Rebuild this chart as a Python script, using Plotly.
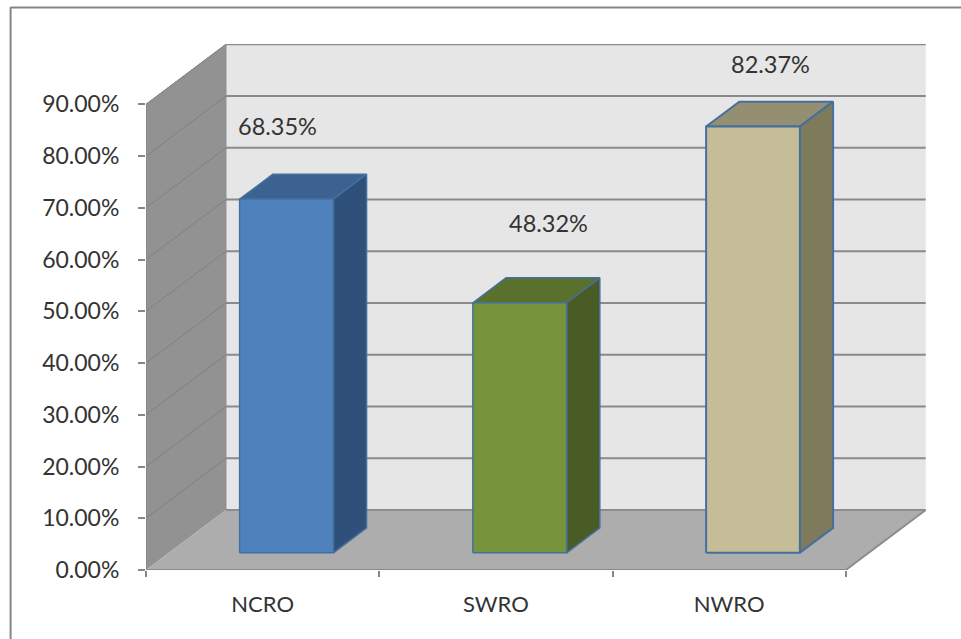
import plotly.graph_objects as go

# ---- data ----
categories = ["NCRO", "SWRO", "NWRO"]
values = [68.35, 48.32, 82.37]
y_ticks = [0, 10, 20, 30, 40, 50, 60, 70, 80, 90]
y_tick_labels = ["0.00%", "10.00%", "20.00%", "30.00%", "40.00%",
                 "50.00%", "60.00%", "70.00%", "80.00%", "90.00%"]

# ---- styles ----
front_colors = ["#4f81bd", "#77933c", "#c4bd97"]
top_colors = ["#3c6292", "#5a702d", "#948f71"]
side_colors = ["#2f5078", "#4a5c25", "#7e7a5c"]
outline_widths = [1.5, 1.5, 2]
outline = "#44709f"
FONT = "Lato, Carlito, Calibri, sans-serif"
TEXT = "#333333"

W, H = 961, 639
L, T, R, B = 145.5, 44, 927, 570    # plot rectangle in page pixels
PX_PER_CAT = 700.2 / 3
PX_PER_UNIT = (570 - 104.3) / 90
DEPTH_X = 80 / PX_PER_CAT           # full floor depth, in category units
DEPTH_Y = 60 / PX_PER_UNIT          # full floor depth, in value units
BAR_W = 0.402
BAR_NUDGE = 0.004
D0, D1 = 0.287, 0.702               # bar depth span


def proj(x, v, d):
    """Oblique projection of (category pos, value, depth) onto the 2D axes."""
    return x + d * DEPTH_X, v + d * DEPTH_Y


def poly(points, fill, line_color=None, line_width=0):
    pts = [proj(*p) for p in points]
    pts.append(pts[0])
    return go.Scatter(
        x=[p[0] for p in pts], y=[p[1] for p in pts], mode="lines",
        fill="toself", fillcolor=fill,
        line=dict(color=line_color or fill, width=line_width if line_color else 0),
        hoverinfo="skip", showlegend=False,
    )


def segs(pairs, color, width):
    xs, ys = [], []
    for a, b in pairs:
        pa, pb = proj(*a), proj(*b)
        xs += [pa[0], pb[0], None]
        ys += [pa[1], pb[1], None]
    return go.Scatter(x=xs, y=ys, mode="lines", line=dict(color=color, width=width),
                      hoverinfo="skip", showlegend=False, cliponaxis=False)


n = len(categories)
top = y_ticks[-1]
fig = go.Figure()

# walls and floor
fig.add_trace(poly([(0, 0, 1), (n, 0, 1), (n, top, 1), (0, top, 1)], "#e6e6e6"))
fig.add_trace(poly([(0, 0, 0), (0, 0, 1), (0, top, 1), (0, top, 0)], "#929292"))
fig.add_trace(segs([((0, t, 1), (n, t, 1)) for t in y_ticks[1:]], "#8a8a8a", 2))
fig.add_trace(segs([((0, t, 0), (0, t, 1)) for t in y_ticks[1:]], "#808080", 1))
fig.add_trace(poly([(0, 0, 0), (n, 0, 0), (n, 0, 1), (0, 0, 1)], "#adadad"))
fig.add_trace(segs([((n, 0, 0), (n, 0, 1)), ((0, 0, 1), (n, 0, 1))], "#8c8c8c", 2))
fig.add_trace(segs([((0, 0, 0), (n, 0, 0)), ((0, 0, 0), (0, top, 0))], "#8a8a8a", 2))
fig.add_trace(segs([((0, top, 0), (0, top, 1)), ((0, top, 1), (0, 0, 1))], "#8a8a8a", 1))

# bars
for i, v in enumerate(values):
    x0 = i + 0.5 + BAR_NUDGE - BAR_W / 2
    x1 = i + 0.5 + BAR_NUDGE + BAR_W / 2
    w = outline_widths[i]
    fig.add_trace(poly([(x0, v, D0), (x1, v, D0), (x1, v, D1), (x0, v, D1)],
                       top_colors[i], outline, w))
    fig.add_trace(poly([(x1, 0, D0), (x1, 0, D1), (x1, v, D1), (x1, v, D0)],
                       side_colors[i], outline, w))
    fig.add_trace(poly([(x0, 0, D0), (x1, 0, D0), (x1, v, D0), (x0, v, D0)],
                       front_colors[i], outline, w))

# value labels, anchored on each bar's front-top centre
label_shift = [(-8, 73), (30, 80), (18, 63)]
for i, v in enumerate(values):
    ax, ay = proj(i + 0.5, v, D0)
    fig.add_annotation(x=ax, y=ay, xref="x", yref="y", text=f"{v:.2f}%", showarrow=False,
                       xshift=label_shift[i][0], yshift=label_shift[i][1],
                       font=dict(family=FONT, size=23.5, color=TEXT))

# chart frame (top and left edges only are visible in the picture)
frame = dict(type="line", xref="paper", yref="paper", line=dict(color="#868686", width=2))
to_px = lambda px: (px - L) / (R - L)
to_py = lambda py: (B - py) / (B - T)
fig.add_shape(x0=to_px(10), x1=to_px(961), y0=to_py(7.5), y1=to_py(7.5), **frame)
fig.add_shape(x0=to_px(10), x1=to_px(10), y0=to_py(7), y1=to_py(639), **frame)

fig.update_layout(
    width=W, height=H, autosize=False,
    margin=dict(l=L, r=W - R, t=T, b=H - B, pad=0),
    paper_bgcolor="white", plot_bgcolor="white", showlegend=False,
    xaxis=dict(
        range=[0, (R - L) / PX_PER_CAT], showgrid=False, zeroline=False, showline=False,
        tickmode="array", tickvals=[i + 0.5 for i in range(n)], ticktext=categories,
        ticks="", tickfont=dict(family=FONT, size=22, color=TEXT), ticklabelstandoff=19,
        minor=dict(tickmode="array", tickvals=list(range(n + 1)), ticks="outside",
                   ticklen=6, tickwidth=2, tickcolor="#868686"),
    ),
    yaxis=dict(
        range=[0, (B - T) / PX_PER_UNIT], showgrid=False, zeroline=False, showline=False,
        tickmode="array", tickvals=y_ticks, ticktext=y_tick_labels,
        ticks="outside", ticklen=7, tickwidth=2, tickcolor="#868686",
        tickfont=dict(family=FONT, size=23, color=TEXT), ticklabelstandoff=14,
    ),
)

fig.write_html(
    "out.html",
    config={"displayModeBar": False},
    post_script="document.body.style.margin='0';document.documentElement.style.overflow='hidden';",
)
